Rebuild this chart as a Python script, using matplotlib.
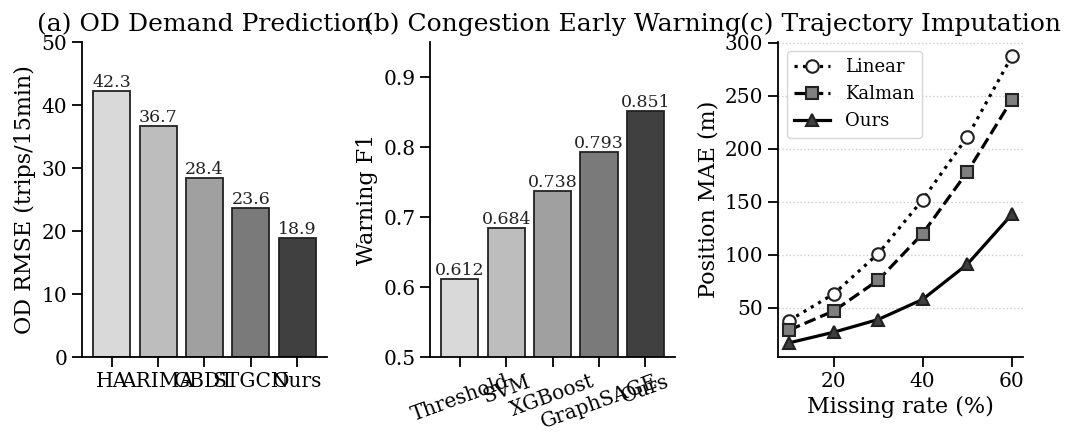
import matplotlib
matplotlib.use("Agg")
import matplotlib.pyplot as plt
import numpy as np

plt.rcParams['font.family'] = ['DejaVu Serif']

# (a) OD demand prediction
od_methods = ["HA", "ARIMA", "GBDT", "STGCN", "Ours"]
od_rmse = [42.3, 36.7, 28.4, 23.6, 18.9]

# (b) Congestion early warning
cw_methods = ["Threshold", "SVM", "XGBoost", "GraphSAGE", "Ours"]
cw_f1 = [0.612, 0.684, 0.738, 0.793, 0.851]

# (c) Trajectory imputation
missing_rate = [10, 20, 30, 40, 50, 60]
mae_linear = [38, 63, 101, 152, 211, 287]
mae_kalman = [29, 47, 76, 120, 178, 246]
mae_ours = [17, 27, 39, 58, 91, 138]

bar_colors = ["#d9d9d9", "#bdbdbd", "#a0a0a0", "#7a7a7a", "#404040"]

fig = plt.figure(figsize=(10.7, 4.34), dpi=100)
lefts = [0.0766, 0.402, 0.727]
w = 0.229
b = 0.177
h = 0.726
axes = [fig.add_axes([l, b, w, h]) for l in lefts]

TICK = 14.5
LAB = 16
TITLE = 18
VAL = 12.5

# (a)
ax = axes[0]
x = np.arange(len(od_methods))
ax.bar(x, od_rmse, color=bar_colors, edgecolor="#222222", linewidth=1.3, width=0.8)
for xi, v in zip(x, od_rmse):
    ax.text(xi, v, f"{v:.1f}", ha="center", va="bottom", fontsize=VAL, color="#222222")
ax.set_xticks(x)
ax.set_xticklabels(od_methods)
ax.set_ylim(0, 50)
ax.set_ylabel("OD RMSE (trips/15min)", fontsize=LAB)
ax.set_title("(a) OD Demand Prediction", fontsize=TITLE, pad=8)

# (b)
ax = axes[1]
x = np.arange(len(cw_methods))
ax.bar(x, cw_f1, color=bar_colors, edgecolor="#222222", linewidth=1.3, width=0.8)
for xi, v in zip(x, cw_f1):
    ax.text(xi, v, f"{v:.3f}", ha="center", va="bottom", fontsize=VAL, color="#222222")
ax.set_xticks(x)
ax.set_xticklabels(cw_methods, rotation=20, ha="center")
ax.set_ylim(0.5, 0.95)
ax.set_yticks([0.5, 0.6, 0.7, 0.8, 0.9])
ax.set_ylabel("Warning F1", fontsize=LAB)
ax.set_title("(b) Congestion Early Warning", fontsize=TITLE, pad=8)

# (c)
ax = axes[2]
ax.plot(missing_rate, mae_linear, linestyle=":", color="black", linewidth=2.3,
        marker="o", markersize=9, markerfacecolor="white", markeredgecolor="#222222",
        markeredgewidth=1.5, label="Linear")
ax.plot(missing_rate, mae_kalman, linestyle="--", color="black", linewidth=2.3,
        marker="s", markersize=9, markerfacecolor="#7f7f7f", markeredgecolor="#222222",
        markeredgewidth=1.5, label="Kalman")
ax.plot(missing_rate, mae_ours, linestyle="-", color="black", linewidth=2.3,
        marker="^", markersize=9, markerfacecolor="#404040", markeredgecolor="#222222",
        markeredgewidth=1.5, label="Ours")
ax.set_xticks([20, 40, 60])
ax.set_yticks([50, 100, 150, 200, 250, 300])
ax.yaxis.grid(True, linestyle=":", color="#cccccc", linewidth=1)
ax.set_axisbelow(True)
ax.set_xlabel("Missing rate (%)", fontsize=LAB)
ax.set_ylabel("Position MAE (m)", fontsize=LAB)
ax.set_title("(c) Trajectory Imputation", fontsize=TITLE, pad=8)
ax.legend(loc="upper left", fontsize=13, frameon=True, fancybox=True,
          edgecolor="#cccccc", handlelength=2.0)

for ax in axes:
    ax.spines["top"].set_visible(False)
    ax.spines["right"].set_visible(False)
    ax.spines["left"].set_linewidth(1.3)
    ax.spines["bottom"].set_linewidth(1.3)
    ax.tick_params(labelsize=TICK, width=1.3, length=7)

fig.savefig("out.png", dpi=100)
